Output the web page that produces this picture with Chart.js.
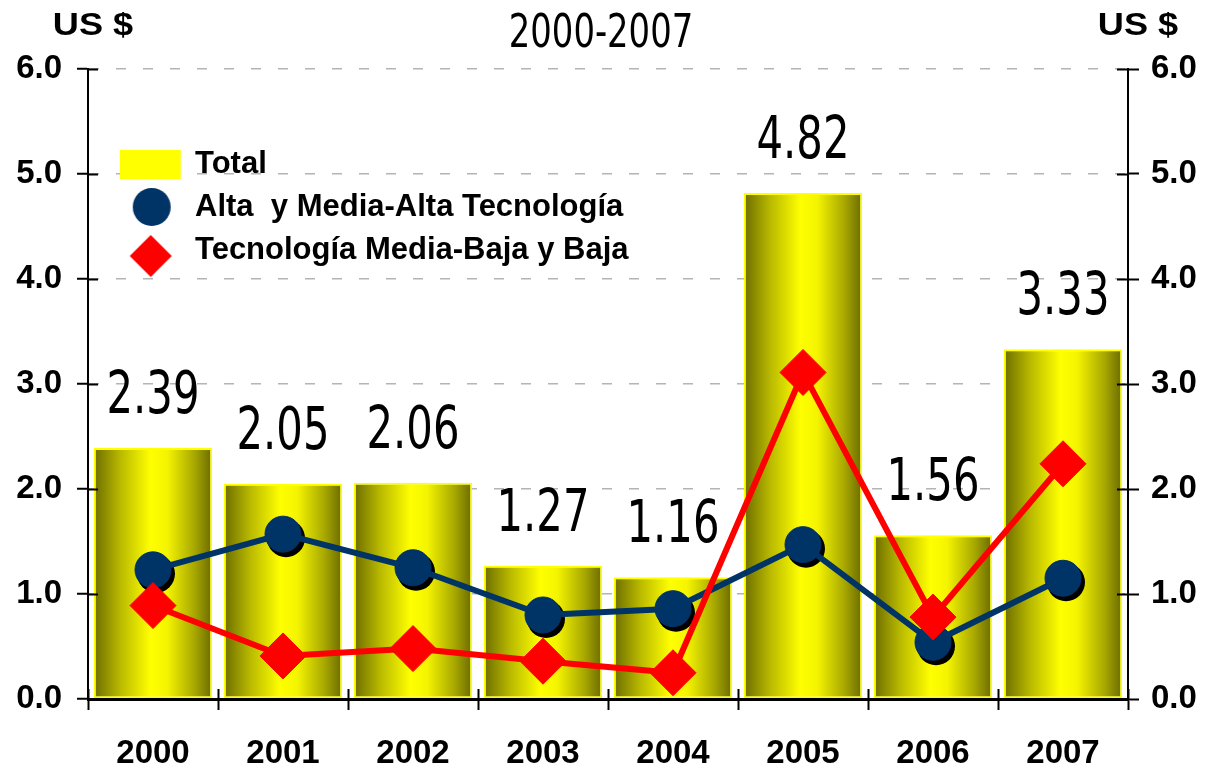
<!DOCTYPE html>
<html>
<head>
<meta charset="utf-8">
<script src="https://cdn.jsdelivr.net/npm/chart.js@4.4.0/dist/chart.umd.min.js"></script>
<style>
  html, body { margin: 0; padding: 0; background: #fff; }
  #wrap { width: 1205px; height: 768px; }
</style>
</head>
<body>
<div id="wrap"><canvas id="chart" width="1205" height="768"></canvas></div>
<script>
// datos (US $)
const years = ['2000', '2001', '2002', '2003', '2004', '2005', '2006', '2007'];
const total = [2.39, 2.05, 2.06, 1.27, 1.16, 4.82, 1.56, 3.33];
const altaMediaAlta = [1.23, 1.57, 1.25, 0.80, 0.86, 1.47, 0.54, 1.15];
const mediaBajaBaja = [0.89, 0.41, 0.48, 0.36, 0.25, 3.11, 0.78, 2.24];
const yTicks = [0, 1, 2, 3, 4, 5, 6];
const titleText = '2000-2007';
const unitText = 'US $';

const BOLD = "'Liberation Sans', Arial, sans-serif";
const NARROW = "'Liberation Sans Narrow', 'DejaVu Sans Condensed', sans-serif";
const BAR_PCT = 0.91;

Chart.defaults.font.family = BOLD;
Chart.defaults.color = '#000';

// iconos de la leyenda
function legendImg(kind) {
  const c = document.createElement('canvas');
  const g = c.getContext('2d');
  c.width = 84;
  if (kind === 'rect') {
    c.height = 29;
    g.fillStyle = '#ffff00';
    g.fillRect(22, 0, 61, 29);
  } else if (kind === 'circle') {
    c.height = 40;
    g.fillStyle = '#003366';
    g.beginPath(); g.arc(54, 20, 19, 0, Math.PI * 2); g.fill();
  } else {
    c.height = 56;
    g.fillStyle = '#ff0000';
    g.beginPath();
    g.moveTo(53, 13); g.lineTo(74, 34); g.lineTo(53, 55); g.lineTo(32, 34);
    g.closePath(); g.fill();
  }
  return c;
}
const legendIcons = [legendImg('rect'), legendImg('circle'), legendImg('diamond')];

// degradado tipo cilindro en cada barra
function barGradient(c) {
  const chart = c.chart;
  const xs = chart.scales.x;
  if (!xs || c.dataIndex === undefined) return '#ffff00';
  const cx = xs.getPixelForValue(c.dataIndex);
  const w = (xs.width / years.length) * BAR_PCT;
  const g = chart.ctx.createLinearGradient(cx - w / 2, 0, cx + w / 2, 0);
  g.addColorStop(0, '#6c6c00');
  g.addColorStop(0.22, '#b8b800');
  g.addColorStop(0.48, '#ffff00');
  g.addColorStop(0.62, '#f4f400');
  g.addColorStop(0.85, '#a8a800');
  g.addColorStop(1, '#6a6a00');
  return g;
}

// texto estirado o comprimido en horizontal
function drawText(ctx, text, x, y, font, sx) {
  ctx.save();
  ctx.translate(x, y);
  ctx.scale(sx, 1);
  ctx.font = font;
  ctx.fillStyle = '#000';
  ctx.textAlign = 'center';
  ctx.textBaseline = 'alphabetic';
  ctx.fillText(text, 0, 0);
  ctx.restore();
}

// sombra negra bajo los círculos azules
const shadowPlugin = {
  id: 'shadow',
  beforeDatasetDraw(chart, args) {
    if (args.index !== 1) return;
    const ctx = chart.ctx;
    ctx.save();
    ctx.fillStyle = '#000';
    args.meta.data.forEach(pt => {
      ctx.beginPath();
      ctx.arc(pt.x + 3, pt.y + 4, 19, 0, Math.PI * 2);
      ctx.fill();
    });
    ctx.restore();
  }
};

// etiquetas de valor, título, marcas interiores y "US $"
const labelsPlugin = {
  id: 'labels',
  afterDatasetsDraw(chart) {
    const meta = chart.getDatasetMeta(0);
    meta.data.forEach((bar, i) => {
      drawText(chart.ctx, total[i].toFixed(2), bar.x, bar.y - 35, '58px ' + NARROW, 0.8);
    });
  },
  afterDraw(chart) {
    const ctx = chart.ctx;
    const {x, y, y2} = chart.scales;
    ctx.save();
    ctx.strokeStyle = '#000';
    ctx.lineWidth = 2;
    ctx.beginPath();
    yTicks.forEach(v => {
      const py = Math.round(y.getPixelForValue(v)) + 0.5;
      ctx.moveTo(y.right, py); ctx.lineTo(y.right + 10, py);
      ctx.moveTo(y2.left - 11, py); ctx.lineTo(y2.left, py);
    });
    const step = x.width / years.length;
    for (let i = 0; i <= years.length; i++) {
      const px = Math.round(x.left + i * step) + 0.5;
      ctx.moveTo(px, x.top); ctx.lineTo(px, x.top - 10);
    }
    ctx.stroke();
    ctx.restore();
    drawText(ctx, titleText, (x.left + x.right) / 2 - 7, 47, '47px ' + NARROW, 0.8);
    drawText(ctx, unitText, 93, 35, 'bold 32px ' + BOLD, 1.13);
    drawText(ctx, unitText, 1138, 35, 'bold 32px ' + BOLD, 1.13);
  }
};

const tickFont = {family: BOLD, size: 33, weight: 'bold'};

new Chart(document.getElementById('chart'), {
  data: {
    labels: years,
    datasets: [{
      type: 'bar',
      label: 'Total',
      data: total,
      backgroundColor: barGradient,
      borderColor: '#ffff00',
      borderWidth: 2,
      borderSkipped: false,
      barPercentage: BAR_PCT,
      categoryPercentage: 1,
      order: 3,
      yAxisID: 'y'
    }, {
      type: 'line',
      label: 'Alta  y Media-Alta Tecnología',
      data: altaMediaAlta,
      borderColor: '#003366',
      backgroundColor: '#003366',
      borderWidth: 6,
      tension: 0,
      pointStyle: 'circle',
      pointRadius: 18,
      pointBorderWidth: 1,
      pointBackgroundColor: '#003366',
      pointBorderColor: '#003366',
      order: 2,
      yAxisID: 'y'
    }, {
      type: 'line',
      label: 'Tecnología Media-Baja y Baja',
      data: mediaBajaBaja,
      borderColor: '#ff0000',
      backgroundColor: '#ff0000',
      borderWidth: 6,
      tension: 0,
      pointStyle: 'rectRot',
      pointRadius: 23,
      pointBorderWidth: 1,
      pointBackgroundColor: '#ff0000',
      pointBorderColor: '#ff0000',
      order: 1,
      yAxisID: 'y'
    }]
  },
  options: {
    responsive: false,
    animation: false,
    devicePixelRatio: 1,
    layout: {padding: {top: 69, left: 0, right: 0, bottom: 0}},
    plugins: {
      tooltip: {enabled: false},
      title: {display: false},
      legend: {
        display: true,
        position: 'chartArea',
        align: 'start',
        title: {display: true, text: '', font: {size: 10, lineHeight: 1.2}, padding: {top: 0, bottom: 124.5}},
        labels: {
          usePointStyle: true,
          pointStyleWidth: 79.5,
          padding: 12,
          color: '#000',
          font: {family: BOLD, size: 31, weight: 'bold'},
          generateLabels: chart => chart.data.datasets.map((ds, i) => ({
            text: ds.label,
            pointStyle: legendIcons[i],
            fillStyle: 'transparent',
            strokeStyle: 'transparent',
            lineWidth: 0,
            fontColor: '#000',
            hidden: false,
            datasetIndex: i
          }))
        }
      }
    },
    scales: {
      x: {
        offset: true,
        grid: {
          display: true, drawOnChartArea: false, drawTicks: true, offset: true,
          tickLength: 11, tickColor: '#000', tickWidth: 2
        },
        border: {display: true, color: '#000', width: 3, z: 1},
        ticks: {font: tickFont, color: '#000', padding: 24},
        afterFit: s => { s.height = 69; }
      },
      y: {
        position: 'left',
        min: 0, max: 6,
        afterBuildTicks: s => { s.ticks = yTicks.map(v => ({value: v})); },
        grid: {
          color: '#b4b4b4', lineWidth: 1.5, borderDash: [10, 17],
          tickLength: 11, tickColor: '#000', tickWidth: 2, tickBorderDash: []
        },
        border: {display: true, color: '#000', width: 2, dash: [10, 17]},
        ticks: {font: tickFont, color: '#000', padding: 15, callback: v => Number(v).toFixed(1)},
        afterFit: s => { s.width = 88; }
      },
      y2: {
        position: 'right',
        min: 0, max: 6,
        afterBuildTicks: s => { s.ticks = yTicks.map(v => ({value: v})); },
        grid: {
          drawOnChartArea: false, tickLength: 11, tickColor: '#000', tickWidth: 2
        },
        border: {display: true, color: '#000', width: 2},
        ticks: {font: tickFont, color: '#000', padding: 12, callback: v => Number(v).toFixed(1)},
        afterFit: s => { s.width = 77; }
      }
    }
  },
  plugins: [shadowPlugin, labelsPlugin]
});
</script>
</body>
</html>
